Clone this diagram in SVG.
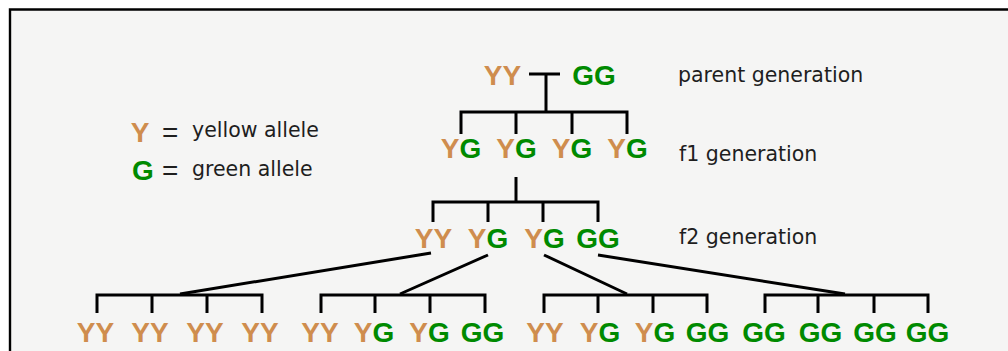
<svg xmlns="http://www.w3.org/2000/svg" width="1008" height="351" viewBox="0 0 1008 351">
<style>
.al{font-family:"Liberation Sans",Arial,sans-serif;font-size:28px;text-anchor:middle;font-weight:bold}
.y{fill:#cf8d4e}
.g{fill:#008a00}
.lbl{font-family:"DejaVu Sans",Verdana,sans-serif;font-size:20.5px;fill:#1e1e1e}
.eq{font-family:"Liberation Sans",Arial,sans-serif;font-size:28px;fill:#1e1e1e}
.c{fill:none;stroke:#000;stroke-width:3;stroke-linejoin:miter}
</style>
<rect x="0" y="0" width="1008" height="351" fill="#ffffff"/>
<rect x="10" y="10" width="998" height="341" fill="#f5f5f4"/>
<path d="M10,351 V9.5 H1008" fill="none" stroke="#000" stroke-width="2.4"/>

<g id="connectors">
<path class="c" d="M529,74 H560 M546,74 V112"/>
<path class="c" d="M461,134 V112 H627 V134 M516,112 V134 M572,112 V134"/>
<path class="c" d="M516,177 V202"/>
<path class="c" d="M433,222 V202 H598 V222 M488,202 V222 M543,202 V222"/>
<path class="c" d="M431,253 L180,294 M488,255 L400,294 M544,255 L627,294 M598,255 L845,294"/>
<path class="c" d="M97,313 V295 H262 V313 M152,295 V313 M207,295 V313"/>
<path class="c" d="M321,313 V295 H485 V313 M375,295 V313 M430,295 V313"/>
<path class="c" d="M544,313 V295 H707 V313 M598,295 V313 M653,295 V313"/>
<path class="c" d="M765,313 V295 H928 V313 M818,295 V313 M874,295 V313"/>
</g>

<g id="parent-YY"><text class="al" x="502.5" y="85"><tspan class="y">YY</tspan></text></g>
<g id="parent-GG"><text class="al" x="594" y="85"><tspan class="g">GG</tspan></text></g>

<g id="f1-1"><text class="al" x="461" y="158"><tspan class="y">Y</tspan><tspan class="g">G</tspan></text></g>
<g id="f1-2"><text class="al" x="516.5" y="158"><tspan class="y">Y</tspan><tspan class="g">G</tspan></text></g>
<g id="f1-3"><text class="al" x="572" y="158"><tspan class="y">Y</tspan><tspan class="g">G</tspan></text></g>
<g id="f1-4"><text class="al" x="627.5" y="158"><tspan class="y">Y</tspan><tspan class="g">G</tspan></text></g>

<g id="f2-1"><text class="al" x="433.5" y="248"><tspan class="y">YY</tspan></text></g>
<g id="f2-2"><text class="al" x="488" y="248"><tspan class="y">Y</tspan><tspan class="g">G</tspan></text></g>
<g id="f2-3"><text class="al" x="544.5" y="248"><tspan class="y">Y</tspan><tspan class="g">G</tspan></text></g>
<g id="f2-4"><text class="al" x="598" y="248"><tspan class="g">GG</tspan></text></g>

<g id="f3-1"><text class="al" x="95.5" y="342"><tspan class="y">YY</tspan></text></g>
<g id="f3-2"><text class="al" x="150" y="342"><tspan class="y">YY</tspan></text></g>
<g id="f3-3"><text class="al" x="205" y="342"><tspan class="y">YY</tspan></text></g>
<g id="f3-4"><text class="al" x="260" y="342"><tspan class="y">YY</tspan></text></g>
<g id="f3-5"><text class="al" x="320" y="342"><tspan class="y">YY</tspan></text></g>
<g id="f3-6"><text class="al" x="374" y="342"><tspan class="y">Y</tspan><tspan class="g">G</tspan></text></g>
<g id="f3-7"><text class="al" x="429.5" y="342"><tspan class="y">Y</tspan><tspan class="g">G</tspan></text></g>
<g id="f3-8"><text class="al" x="482.5" y="342"><tspan class="g">GG</tspan></text></g>
<g id="f3-9"><text class="al" x="545" y="342"><tspan class="y">YY</tspan></text></g>
<g id="f3-10"><text class="al" x="600" y="342"><tspan class="y">Y</tspan><tspan class="g">G</tspan></text></g>
<g id="f3-11"><text class="al" x="655" y="342"><tspan class="y">Y</tspan><tspan class="g">G</tspan></text></g>
<g id="f3-12"><text class="al" x="707.5" y="342"><tspan class="g">GG</tspan></text></g>
<g id="f3-13"><text class="al" x="764" y="342"><tspan class="g">GG</tspan></text></g>
<g id="f3-14"><text class="al" x="820.5" y="342"><tspan class="g">GG</tspan></text></g>
<g id="f3-15"><text class="al" x="875" y="342"><tspan class="g">GG</tspan></text></g>
<g id="f3-16"><text class="al" x="927.5" y="342"><tspan class="g">GG</tspan></text></g>

<g id="labels">
<text class="lbl" x="678" y="82">parent generation</text>
<text class="lbl" x="679" y="161">f1 generation</text>
<text class="lbl" x="679" y="244">f2 generation</text>
</g>

<g id="legend">
<text class="al" x="140" y="142"><tspan class="y">Y</tspan></text>
<text class="eq" x="162" y="142">=</text>
<text class="lbl" x="192" y="137">yellow allele</text>
<text class="al" x="143" y="180"><tspan class="g">G</tspan></text>
<text class="eq" x="162" y="180">=</text>
<text class="lbl" x="192" y="176">green allele</text>
</g>
</svg>
